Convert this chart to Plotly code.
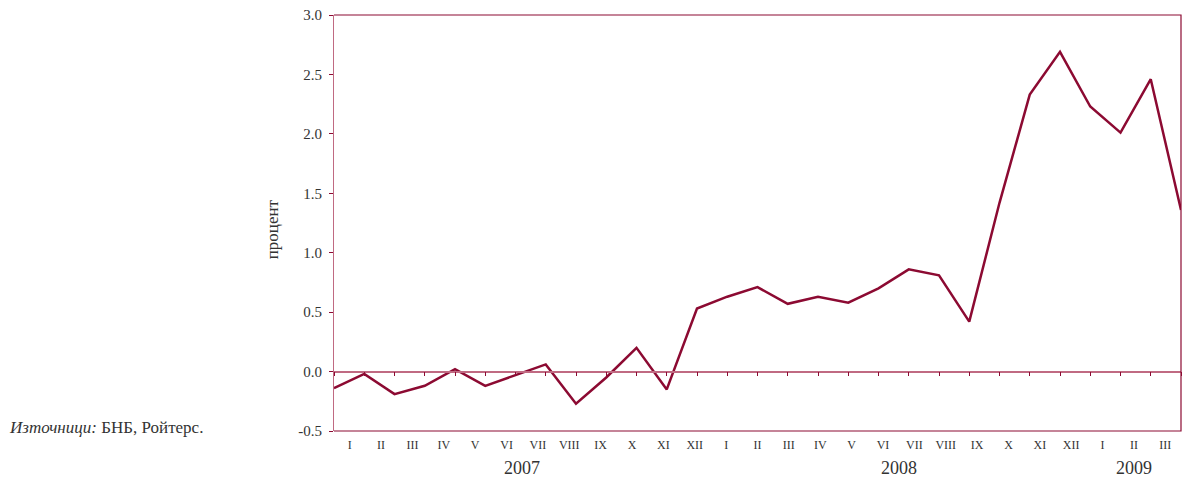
import plotly.graph_objects as go

months = ["I", "II", "III", "IV", "V", "VI", "VII", "VIII", "IX", "X", "XI", "XII",
          "I", "II", "III", "IV", "V", "VI", "VII", "VIII", "IX", "X", "XI", "XII",
          "I", "II", "III"]
years = ["2007", "2008", "2009"]
year_months = [12, 12, 3]

y_ticks = [-0.5, 0.0, 0.5, 1.0, 1.5, 2.0, 2.5, 3.0]
y_labels = ["-0.5", "0.0", "0.5", "1.0", "1.5", "2.0", "2.5", "3.0"]

values = [-0.14, -0.02, -0.19, -0.12, 0.02, -0.12, -0.03, 0.06, -0.27, -0.05,
          0.20, -0.15, 0.53, 0.63, 0.71, 0.57, 0.63, 0.58, 0.70, 0.86,
          0.81, 0.42, 1.42, 2.33, 2.69, 2.23, 2.01, 2.46, 1.36]

red = "#8c0a32"
pink = "#c06a82"
txt = "#333333"
font = "Liberation Serif, Times New Roman, serif"

fig = go.Figure()

# month labels axis
fig.add_trace(go.Scatter(x=[0, len(months)], y=[None, None], mode="lines",
                         showlegend=False, hoverinfo="skip"))

# data line on its own axis (points fall between the month labels)
fig.add_trace(go.Scatter(x=list(range(len(values))), y=values, mode="lines",
                         line=dict(color=red, width=2.5), xaxis="x2",
                         showlegend=False, hoverinfo="y"))

fig.update_layout(
    width=1187, height=479,
    margin=dict(l=334, r=6, t=15, b=48),
    paper_bgcolor="white", plot_bgcolor="white",
    font=dict(family=font, color=txt),
    yaxis=dict(range=[-0.5, 3.0], tickvals=y_ticks, ticktext=y_labels,
               showgrid=False, zeroline=False,
               showline=True, linecolor=pink, linewidth=1,
               ticks="outside", ticklen=4, tickcolor=red, ticklabelstandoff=4,
               tickfont=dict(size=15, family=font, color=txt)),
    xaxis=dict(range=[0, len(months)], side="bottom",
               tickvals=[i + 0.5 for i in range(len(months))], ticktext=months,
               showgrid=False, zeroline=False, showline=False,
               ticks="outside", ticklen=3, tickcolor="rgba(0,0,0,0)",
               tickfont=dict(size=12, family=font, color=txt)),
    xaxis2=dict(range=[0, len(values) - 1], overlaying="x", anchor="free",
                position=0.5 / 3.5, showgrid=False, zeroline=False,
                showticklabels=False, showline=True, linecolor=pink, linewidth=1.5,
                ticks="outside", ticklen=4, tickcolor=red, dtick=1),
)

# top, right and bottom border
fig.add_shape(type="path", xref="paper", yref="paper",
              path="M 0,1 L 1,1 L 1,0 L 0,0",
              line=dict(color=red, width=1.2))

start = 0
for yr, n in zip(years, year_months):
    fig.add_annotation(x=start + n / 2, y=0, xref="x", yref="paper",
                       yanchor="middle", yshift=-37, text=yr, showarrow=False,
                       font=dict(size=18, family=font, color=txt))
    start += n

fig.add_annotation(x=0, y=0.485, xref="paper", yref="paper", xanchor="center",
                   xshift=-62, text="процент", showarrow=False, textangle=-90,
                   font=dict(size=17, family=font, color=txt))

fig.add_annotation(x=0, y=0, xref="paper", yref="paper", xanchor="left",
                   yanchor="middle", text="<i>Източници:</i> БНБ, Ройтерс.",
                   showarrow=False, xshift=-327, yshift=4,
                   font=dict(size=17, family=font, color=txt))

fig.write_html("out.html", config={"displayModeBar": False},
               post_script="document.body.style.margin='0';")
